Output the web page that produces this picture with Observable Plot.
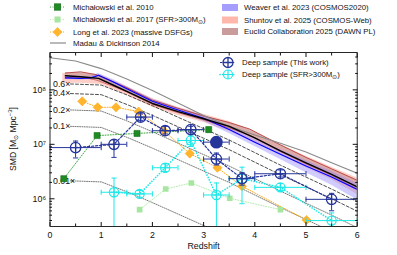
<!DOCTYPE html>
<html><head><meta charset="utf-8">
<script src="https://cdn.jsdelivr.net/npm/d3@7"></script>
<script src="https://cdn.jsdelivr.net/npm/@observablehq/plot@0.6"></script>
<style>
body{margin:0;background:#fff;}
#wrap{position:relative;width:397px;height:255px;font-family:"Liberation Sans",Arial,sans-serif;}
#ylab{position:absolute;left:13px;top:139px;transform:translate(-50%,-50%) rotate(-90deg);font-size:8.6px;white-space:nowrap;color:#111;}
#ylab sub{font-size:6px;}
#ylab sup{font-size:6px;}
</style></head><body><div id="wrap"><div id="ylab">SMD [M<sub>⊙</sub> Mpc<sup>−3</sup>]</div></div>
<script>
// ---------- data (log10 SMD in M_sun Mpc^-3) ----------
const madauZ   = [0,0.5,1,1.5,2,2.5,3,3.5,4,4.5,5,5.5,6];
const madauLog = [8.59,8.53,8.39,8.20,7.99,7.76,7.53,7.33,7.17,7.02,6.86,6.66,6.47];

const blackZ   = [0.3,0.6,0.95,1.25,1.5,2,2.5,3,3.5,4,4.5,5,5.5,6];
const blackLog = [8.26,8.24,8.21,8.08,7.97,7.75,7.60,7.47,7.33,7.12,6.88,6.66,6.45,6.22];

const weaverZ   = [0.3,0.6,0.8,0.95,1.25,1.5,2,2.5,3,3.5,4,4.5,5,5.5,6];
const weaverLog = [8.22,8.21,8.22,8.27,8.14,8.02,7.79,7.63,7.48,7.27,7.04,6.82,6.60,6.40,6.17];
const weaverLo  = [8.19,8.18,8.19,8.23,8.10,7.98,7.75,7.58,7.42,7.20,6.96,6.72,6.48,6.25,5.98];
const weaverHi  = [8.25,8.24,8.25,8.30,8.18,8.06,7.83,7.67,7.53,7.33,7.11,6.90,6.70,6.50,6.28];

const shuntovZ  = [0.25,0.6,1,1.5,2,2.5,3,3.5,4,4.5,5,5.5,6];
const shuntovLo = [8.12,8.12,8.10,7.90,7.68,7.53,7.40,7.24,7.03,6.80,6.57,6.35,6.08];
const shuntovHi = [8.30,8.30,8.27,8.06,7.84,7.68,7.55,7.42,7.22,6.99,6.78,6.58,6.38];

const euclidZ  = [0.3,0.6,0.9,1.25,1.5,2,2.5,3,3.5,3.9,4.5,5,5.5,6];
const euclidLo = [8.22,8.24,8.18,8.06,7.96,7.73,7.58,7.45,7.30,7.17,6.87,6.64,6.43,6.18];
const euclidHi = [8.31,8.33,8.28,8.14,8.04,7.81,7.66,7.52,7.40,7.28,6.99,6.76,6.55,6.34];

// reference curve used for the scaled (0.6x ... 0.01x) tracks
const refZ   = [0.4,1.0,1.5,2,2.5,3,3.5,4,4.5,5,5.5,6];
const refLog = [8.33,8.31,8.13,7.93,7.72,7.51,7.30,7.07,6.84,6.62,6.40,6.17];
const factors = [0.6,0.4,0.2,0.1,0.01];
const factorLabels = ["0.6×","0.4×","0.2×","0.1×","0.01×"];

const mich10Z   = [0.27,0.92,1.70,3.10];
const mich10Log = [6.37,7.16,7.20,7.27];

const mich17Z   = [1.75,2.26,2.76,3.51,4.50];
const mich17Log = [5.80,6.18,6.29,6.01,5.80];

const longZ   = [0.63,0.93,1.29,1.73,2.22,2.73,3.27,3.75,5.01];
const longLog = [7.79,7.68,7.68,7.60,7.25,6.83,6.57,6.23,5.61];

const deepZ    = [0.5,1.25,1.77,2.25,2.75,3.25,3.75,4.5,5.5];
const deepZlo  = [0,1.0,1.5,2.0,2.5,3.0,3.5,4.0,5.0];
const deepZhi  = [1.0,1.5,2.0,2.5,3.0,3.5,4.0,5.0,6.0];
const deepLog  = [6.94,7.00,7.50,7.25,7.27,6.73,6.37,6.46,5.99];
const deepLogLo= [6.75,6.76,7.44,7.19,7.21,6.62,6.25,6.40,5.78];
const deepLogHi= [7.06,7.08,7.56,7.33,7.33,6.84,6.48,6.53,6.10];

const filledZ = [3.25], filledZlo = [3.0], filledZhi = [3.5];
const filledLog = [7.04], filledLogLo = [6.96], filledLogHi = [7.13];

const cyanZ    = [1.25,1.75,2.25,2.75,3.25,3.75,4.5,5.5];
const cyanZlo  = [1.0,1.5,2.0,2.5,3.0,3.5,4.0,5.0];
const cyanZhi  = [1.5,2.0,2.5,3.0,3.5,4.0,5.0,6.0];
const cyanLog  = [6.12,6.09,6.57,7.07,6.07,6.37,6.21,5.60];
const cyanLogLo= [5.30,6.03,6.50,6.96,5.30,5.91,6.15,5.30];
const cyanLogHi= [6.38,6.15,6.64,7.17,6.29,6.58,6.28,5.74];

const xMajor = [0,1,2,3,4,5,6];
const xMinor = [0.5,1.5,2.5,3.5,4.5,5.5];
const yMajor = [1e6,1e7,1e8];
const yMajorLabels = ["10⁶","10⁷","10⁸"];
const yMinor = [4e5,5e5,6e5,7e5,8e5,9e5,2e6,3e6,4e6,5e6,6e6,7e6,8e6,9e6,2e7,3e7,4e7,5e7,6e7,7e7,8e7,9e7,2e8,3e8,4e8];

// ---------- tables ----------
const P = l => Math.pow(10, l);
const madau = madauZ.map((z,i)=>({z, v:P(madauLog[i])}));
const black = blackZ.map((z,i)=>({z, v:P(blackLog[i])}));
const weaver = weaverZ.map((z,i)=>({z, v:P(weaverLog[i]), lo:P(weaverLo[i]), hi:P(weaverHi[i])}));
const shuntov = shuntovZ.map((z,i)=>({z, lo:P(shuntovLo[i]), hi:P(shuntovHi[i])}));
const euclid = euclidZ.map((z,i)=>({z, lo:P(euclidLo[i]), hi:P(euclidHi[i])}));
const scaled = factors.flatMap((f,k)=>refZ.map((z,i)=>({z, v:P(refLog[i])*f, f, dashed: k<2})));
const scaledLab = factors.map((f,k)=>({v:P(refLog[0])*f, t:factorLabels[k]}));
const mich10 = mich10Z.map((z,i)=>({z, v:P(mich10Log[i])}));
const mich17 = mich17Z.map((z,i)=>({z, v:P(mich17Log[i])}));
const longD = longZ.map((z,i)=>({z, v:P(longLog[i])}));
const mkErr = (Z,Zlo,Zhi,L,Llo,Lhi)=>Z.map((z,i)=>({z, xlo:Zlo[i], xhi:Zhi[i], v:P(L[i]), ylo:P(Llo[i]), yhi:P(Lhi[i])}));
const deep = mkErr(deepZ,deepZlo,deepZhi,deepLog,deepLogLo,deepLogHi);
const filled = mkErr(filledZ,filledZlo,filledZhi,filledLog,filledLogLo,filledLogHi);
const cyanD = mkErr(cyanZ,cyanZlo,cyanZhi,cyanLog,cyanLogLo,cyanLogHi);

// ---------- symbols ----------
const circlePlus = {draw(c,s){const r=Math.sqrt(s/Math.PI); c.moveTo(r,0); c.arc(0,0,r,0,2*Math.PI); c.moveTo(-r,0); c.lineTo(r,0); c.moveTo(0,-r); c.lineTo(0,r);}};
const capV = {draw(c,s){const r=Math.sqrt(s/Math.PI); c.moveTo(0,-r); c.lineTo(0,r);}};
const capH = {draw(c,s){const r=Math.sqrt(s/Math.PI); c.moveTo(-r,0); c.lineTo(r,0);}};
const diamond = {draw(c,s){const r=Math.sqrt(s/Math.PI); c.moveTo(0,-r); c.lineTo(r,0); c.lineTo(0,r); c.lineTo(-r,0); c.closePath();}};

const navy = "#26359a", cyan = "#1ee8e8", dkGreen = "#1f8b24", ltGreen = "#a6e6a0", orange = "#ffb52e";

function errMarks(data, color, sw) {
  return [
    Plot.ruleY(data, {y:"v", x1:"xlo", x2:"xhi", stroke:color, strokeWidth:sw, clip:true}),
    Plot.ruleX(data, {x:"z", y1:"ylo", y2:"yhi", stroke:color, strokeWidth:sw, clip:true}),
    Plot.dot(data, {x:"xlo", y:"v", symbol:capV, r:2.6, stroke:color, strokeWidth:sw, fill:"none", clip:true}),
    Plot.dot(data, {x:"xhi", y:"v", symbol:capV, r:2.6, stroke:color, strokeWidth:sw, fill:"none", clip:true}),
    Plot.dot(data, {x:"z", y:"ylo", symbol:capH, r:2.6, stroke:color, strokeWidth:sw, fill:"none", clip:true}),
    Plot.dot(data, {x:"z", y:"yhi", symbol:capH, r:2.6, stroke:color, strokeWidth:sw, fill:"none", clip:true}),
  ];
}

const plot = Plot.plot({
  width: 397, height: 255,
  marginLeft: 49.5, marginRight: 40.3, marginTop: 52, marginBottom: 29,
  style: {fontFamily: "Liberation Sans, Arial, sans-serif", fontSize: "8.5px", background: "transparent", color: "#111", overflow: "visible"},
  x: {domain: [0, 6]},
  y: {type: "log", domain: [3.1e5, 4.85e8]},
  marks: [
    Plot.areaY(shuntov, {x:"z", y1:"lo", y2:"hi", fill:"#ffa597", fillOpacity:0.55, clip:true}),
    Plot.areaY(euclid, {x:"z", y1:"lo", y2:"hi", fill:"#b58282", fillOpacity:0.45, clip:true}),
    Plot.areaY(weaver, {x:"z", y1:"lo", y2:"hi", fill:"#8f86ff", fillOpacity:0.42, clip:true}),
    Plot.line(euclid, {x:"z", y:"lo", stroke:"#b23030", strokeWidth:0.6, clip:true}),
    Plot.line(euclid, {x:"z", y:"hi", stroke:"#b23030", strokeWidth:0.8, clip:true}),
    Plot.line(madau, {x:"z", y:"v", stroke:"#8a8a8a", strokeWidth:1.1, clip:true}),
    Plot.line(weaver, {x:"z", y:"v", stroke:"#0000ff", strokeWidth:1.1, clip:true}),
    Plot.line(black, {x:"z", y:"v", stroke:"#000", strokeWidth:1.4, clip:true}),
    Plot.line(scaled.filter(d=>d.dashed), {x:"z", y:"v", z:"f", stroke:"#222", strokeWidth:0.8, strokeDasharray:"3,2", clip:true}),
    Plot.line(scaled.filter(d=>!d.dashed), {x:"z", y:"v", z:"f", stroke:"#555", strokeWidth:0.8, strokeDasharray:"1,1.3", clip:true}),
    Plot.text(scaledLab, {frameAnchor:"left", y:"v", text:"t", dx:3, textAnchor:"start", fontSize:8.8, fill:"#111"}),
    // literature points
    Plot.line(mich10, {x:"z", y:"v", stroke:"#3aa83e", strokeWidth:1, strokeDasharray:"1,1.6", clip:true}),
    Plot.line(mich17, {x:"z", y:"v", stroke:"#b4ecae", strokeWidth:1, strokeDasharray:"1,1.6", clip:true}),
    Plot.line(longD, {x:"z", y:"v", stroke:"#ffa91a", strokeWidth:1, strokeDasharray:"1,1.6", clip:true}),
    Plot.dot(mich10, {x:"z", y:"v", symbol:"square", r:3.4, fill:dkGreen, stroke:"#0f6a14", strokeWidth:0.6, clip:true}),
    Plot.dot(mich17, {x:"z", y:"v", symbol:"square", r:3.2, fill:ltGreen, stroke:"none", clip:true}),
    Plot.dot(longD, {x:"z", y:"v", symbol:diamond, r:4.6, fill:orange, stroke:"#ffa000", strokeWidth:0.5, clip:true}),
    // cyan sample
    Plot.line(cyanD, {x:"z", y:"v", stroke:cyan, strokeWidth:1.7, strokeDasharray:"0.1,2.6", strokeLinecap:"round", clip:true}),
    ...errMarks(cyanD, cyan, 1),
    Plot.dot(cyanD, {x:"z", y:"v", symbol:circlePlus, r:4.6, stroke:cyan, strokeWidth:1.2, fill:"none", clip:true}),
    // deep sample
    Plot.line(deep, {x:"z", y:"v", stroke:navy, strokeWidth:1.2, strokeDasharray:"2.2,1.8", clip:true}),
    ...errMarks(deep, navy, 1),
    Plot.dot(deep, {x:"z", y:"v", symbol:circlePlus, r:5.2, stroke:navy, strokeWidth:1.3, fill:"none", clip:true}),
    ...errMarks(filled, navy, 1),
    Plot.dot(filled, {x:"z", y:"v", r:5.6, fill:navy, stroke:navy, clip:true}),
    // axes / frame
    Plot.frame({stroke:"#111", strokeWidth:0.9}),
    Plot.axisX({anchor:"bottom", ticks:xMajor, tickSize:0, tickPadding:5, tickFormat:d=>String(d), label:null, fontSize:8.8}),
    Plot.axisX({anchor:"bottom", ticks:xMajor, tickSize:-4, tickFormat:()=>"", label:null}),
    Plot.axisX({anchor:"bottom", ticks:xMinor, tickSize:-2.5, tickFormat:()=>"", label:null}),
    Plot.axisX({anchor:"top", ticks:xMajor, tickSize:-4, tickFormat:()=>"", label:null}),
    Plot.axisX({anchor:"top", ticks:xMinor, tickSize:-2.5, tickFormat:()=>"", label:null}),
    Plot.axisY({anchor:"left", ticks:yMajor, tickSize:0, tickPadding:4, tickFormat:d=>yMajorLabels[yMajor.indexOf(d)], label:null, fontSize:8.8}),
    Plot.axisY({anchor:"left", ticks:yMajor, tickSize:-5, tickFormat:()=>"", label:null}),
    Plot.axisY({anchor:"left", ticks:yMinor, tickSize:-2.5, tickFormat:()=>"", label:null}),
    Plot.axisY({anchor:"right", ticks:yMajor, tickSize:-5, tickFormat:()=>"", label:null}),
    Plot.axisY({anchor:"right", ticks:yMinor, tickSize:-2.5, tickFormat:()=>"", label:null}),
    Plot.text(["Redshift"], {frameAnchor:"bottom", dy:22, text:d=>d, fontSize:8.8, fill:"#111"}),
  ]
});
plot.style.position = "absolute"; plot.style.left = "0"; plot.style.top = "0";
const wrap = document.getElementById("wrap");
wrap.appendChild(plot);

// ---------- legends (overlay) ----------
const legend = `
<svg width="397" height="255" style="position:absolute;left:0;top:0;pointer-events:none" font-family="Liberation Sans, Arial, sans-serif" font-size="7.8" fill="#111">
  <line x1="50" x2="65" y1="7" y2="7" stroke="#3aa83e" stroke-dasharray="1,1.6"/>
  <rect x="54.3" y="3.8" width="6.4" height="6.4" fill="${dkGreen}" stroke="#0f6a14" stroke-width="0.6"/>
  <text x="73" y="9.8">Michałowski et al. 2010</text>
  <line x1="50" x2="65" y1="19.5" y2="19.5" stroke="#b4ecae" stroke-dasharray="1,1.6"/>
  <rect x="54.5" y="16.5" width="6" height="6" fill="${ltGreen}"/>
  <text x="73" y="22.3">Michałowski et al. 2017 (SFR&gt;300M<tspan font-size="5.5" dy="1.5">⊙</tspan><tspan dy="-1.5">)</tspan></text>
  <line x1="50" x2="65" y1="32" y2="32" stroke="#ffa91a" stroke-dasharray="1,1.6"/>
  <path d="M57.5,27.4L62.1,32L57.5,36.6L52.9,32Z" fill="${orange}" stroke="#ffa000" stroke-width="0.5"/>
  <text x="73" y="34.8">Long et al. 2023 (massive DSFGs)</text>
  <line x1="50" x2="66" y1="43" y2="43" stroke="#8a8a8a" stroke-width="1.2"/>
  <text x="73" y="45.8">Madau &amp; Dickinson 2014</text>

  <rect x="222" y="4" width="16" height="7" fill="#8f86ff" fill-opacity="0.8"/>
  <text x="244" y="10.3">Weaver et al. 2023 (COSMOS2020)</text>
  <rect x="222" y="16.5" width="16" height="7" fill="#ffa597" fill-opacity="0.8"/>
  <text x="244" y="22.8">Shuntov et al. 2025 (COSMOS-Web)</text>
  <rect x="222" y="28" width="16" height="7" fill="#c08a8a" fill-opacity="0.85"/>
  <text x="244" y="34.3">Euclid Collaboration 2025 (DAWN PL)</text>

  <line x1="220" x2="236" y1="62.5" y2="62.5" stroke="${navy}" stroke-width="1.2" stroke-dasharray="2.2,1.8"/>
  <circle cx="228" cy="62.5" r="5" fill="#fff" stroke="${navy}" stroke-width="1.3"/>
  <path d="M223,62.5H233M228,57.5V67.5" stroke="${navy}" stroke-width="1.3"/>
  <text x="242" y="65.3">Deep sample (This work)</text>
  <line x1="220" x2="236" y1="74.5" y2="74.5" stroke="${cyan}" stroke-width="1.7" stroke-dasharray="0.1,2.6" stroke-linecap="round"/>
  <circle cx="228" cy="74.5" r="4.5" fill="#fff" stroke="${cyan}" stroke-width="1.2"/>
  <path d="M223.5,74.5H232.5M228,70V79" stroke="${cyan}" stroke-width="1.2"/>
  <text x="242" y="77.3">Deep sample (SFR&gt;300M<tspan font-size="5.5" dy="1.5">⊙</tspan><tspan dy="-1.5">)</tspan></text>
</svg>`;
wrap.insertAdjacentHTML("beforeend", legend);
</script>
</body></html>
